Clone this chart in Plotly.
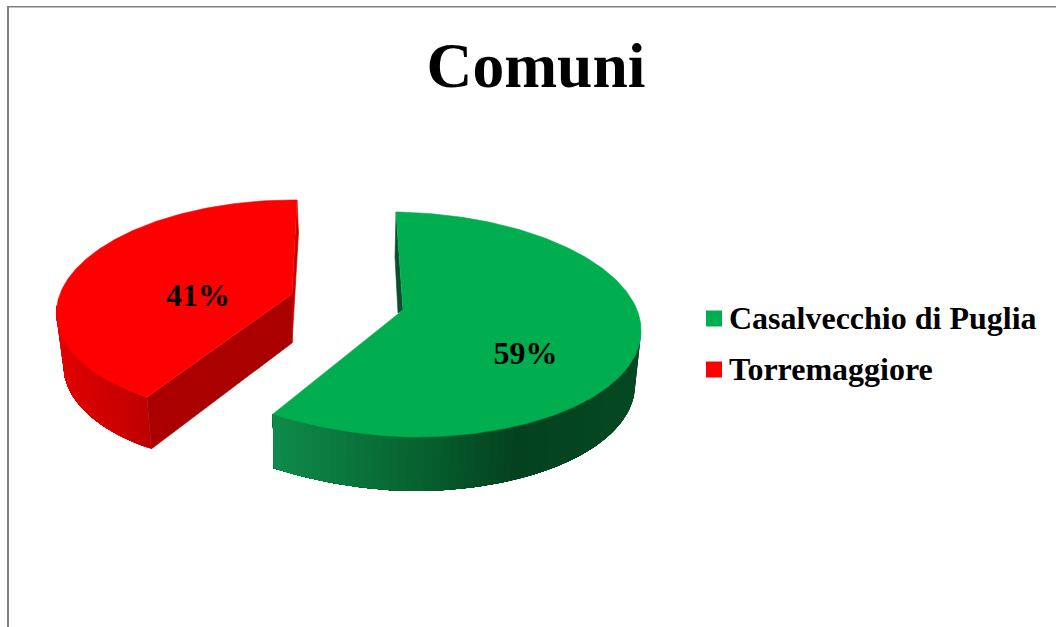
import numpy as np
import plotly.graph_objects as go

# Data
categories = ["Casalvecchio di Puglia", "Torremaggiore"]
values = [59, 41]
title_text = "Comuni"

FONT = "Liberation Serif"
W, H = 1056, 627
face_colors = ["#00AD4F", "#FF0000"]

# Projection of each exploded slice onto the page (the 3D look of the original)
projection = [
    dict(cx=401.5, rx=239.5, rx_left=249, skew=-5.5, cy=324.5, ry=112.5, tilt=3.5, tilt_left=10,
         ax=403, ay=310, depth=54, shrink=0.981, vx=326, back=45),
    dict(cx=280.6, rx=223.6, rx_left=223.6, skew=16.4, cy=307.4, ry=107.4, tilt=2, tilt_left=2,
         ax=292, ay=294, depth=52, shrink=0.97, vx=292, back=36),
]
wall_ramps = [
    [(273, (15, 140, 75)), (400, (8, 105, 52)), (520, (4, 66, 31)), (640, (4, 72, 34))],
    [(57, (226, 0, 0)), (150, (190, 0, 0))],
]
cut_colors = ["#0A4F2A", "#AA0000"]
label_pos = [(525.5, 356), (198, 298)]
legend_pos = [(714, 318.5), (714, 369.5)]
legend_text_dx = 15
legend_text_dy = 2

total = sum(values)
stops = np.cumsum([0] + values) / total * 2 * np.pi
spans = [(stops[0], stops[1]), (stops[1], stops[2])]


def edge(p, th):
    th = np.asarray(th, dtype=float)
    s, c = np.sin(th), np.cos(th)
    rx = np.where(s < 0, p["rx_left"], p["rx"])
    tilt = np.where(s < 0, p["tilt_left"], p["tilt"])
    return p["cx"] + rx * s + p["skew"] * c, p["cy"] - p["ry"] * c + tilt * s


def lower(p, x, y):
    return p["vx"] + (np.asarray(x) - p["vx"]) * p["shrink"], np.asarray(y) + p["depth"]


def ramp(stops_, x):
    xs = [s[0] for s in stops_]
    c = [np.interp(x, xs, [s[1][i] for s in stops_]) for i in range(3)]
    return "rgb(%d,%d,%d)" % tuple(int(round(v)) for v in c)


def poly(x, y, color, width=0.6):
    return go.Scatter(x=list(x), y=list(y), mode="lines", fill="toself", fillcolor=color,
                      line=dict(color=color, width=width), hoverinfo="skip", showlegend=False)


fig = go.Figure()

for i, (p, (a, b)) in enumerate(zip(projection, spans)):
    # outer wall: each strip is painted from its start to the far end of the wall,
    # so neighbouring strips overlap and no seams show
    lo = max(a, np.pi / 2)
    hi = min(b, 1.5 * np.pi)
    edges = np.linspace(lo, hi, 61)
    for t0 in edges[:-1]:
        th = np.linspace(t0, hi, 80)
        x, y = edge(p, th)
        xb, yb = lower(p, x, y)
        fig.add_trace(poly(np.r_[x, xb[::-1]], np.r_[y, yb[::-1]], ramp(wall_ramps[i], x[0]), width=0))

    # cut face and back sliver
    if i == 1:
        sx, sy = edge(p, a)
        sxb, syb = lower(p, sx, sy)
        fig.add_trace(poly([sx, sxb, p["ax"], p["ax"]], [sy, syb, p["ay"] + p["depth"] - 3, p["ay"]], cut_colors[i]))
    tx, ty = edge(p, 0.0)
    if i == 1:
        fig.add_trace(poly([tx, tx + 1.5, p["ax"], p["ax"]],
                           [ty, ty + p["back"] - 3, p["ay"] + p["depth"] - 3, p["ay"]], "#C80000"))
    else:
        fig.add_trace(poly([tx, tx - 1, p["ax"] - 5, p["ax"]],
                           [ty, ty + p["back"], p["ay"] + 3, p["ay"]], cut_colors[i]))

    # top face
    th = np.linspace(a, b, 200)
    x, y = edge(p, th)
    fig.add_trace(poly(np.r_[p["ax"], x, p["ax"]], np.r_[p["ay"], y, p["ay"]], face_colors[i]))

# percentage labels
fig.add_trace(go.Scatter(
    x=[q[0] for q in label_pos], y=[q[1] for q in label_pos], mode="text",
    text=["%d%%" % round(v / total * 100) for v in values], textposition="middle center",
    textfont=dict(family=FONT, size=32, color="black", weight="bold"),
    hoverinfo="skip", showlegend=False))

# legend keys and names
for name, color, (lx, ly) in zip(categories, face_colors, legend_pos):
    fig.add_trace(go.Scatter(
        x=[lx], y=[ly], mode="markers", name=name,
        marker=dict(symbol="square", size=16, color=color, line=dict(width=0)),
        hoverinfo="skip", showlegend=False))
    fig.add_trace(go.Scatter(
        x=[lx + legend_text_dx], y=[ly + legend_text_dy], mode="text", text=[name], textposition="middle right",
        textfont=dict(family=FONT, size=32, color="black", weight="bold"),
        hoverinfo="skip", showlegend=False))

fig.update_layout(
    width=W, height=H, margin=dict(l=0, r=0, t=0, b=0),
    paper_bgcolor="white", plot_bgcolor="white", showlegend=False,
    title=dict(text=title_text, x=536 / W, y=1 - 65 / H, xanchor="center", yanchor="middle",
               font=dict(family=FONT, size=63.5, color="black", weight="bold")),
    xaxis=dict(range=[0, W], visible=False, fixedrange=True),
    yaxis=dict(range=[H, 0], visible=False, fixedrange=True),
    shapes=[
        dict(type="line", xref="x", yref="y", x0=8, x1=8, y0=6, y1=H, line=dict(color="#808080", width=2)),
        dict(type="line", xref="x", yref="y", x0=7, x1=W, y0=6.7, y1=6.7, line=dict(color="#808080", width=1.5)),
    ],
)

fig.write_html("out.html", config=dict(displayModeBar=False),
               post_script="document.body.style.margin='0';document.body.style.overflow='hidden';")
